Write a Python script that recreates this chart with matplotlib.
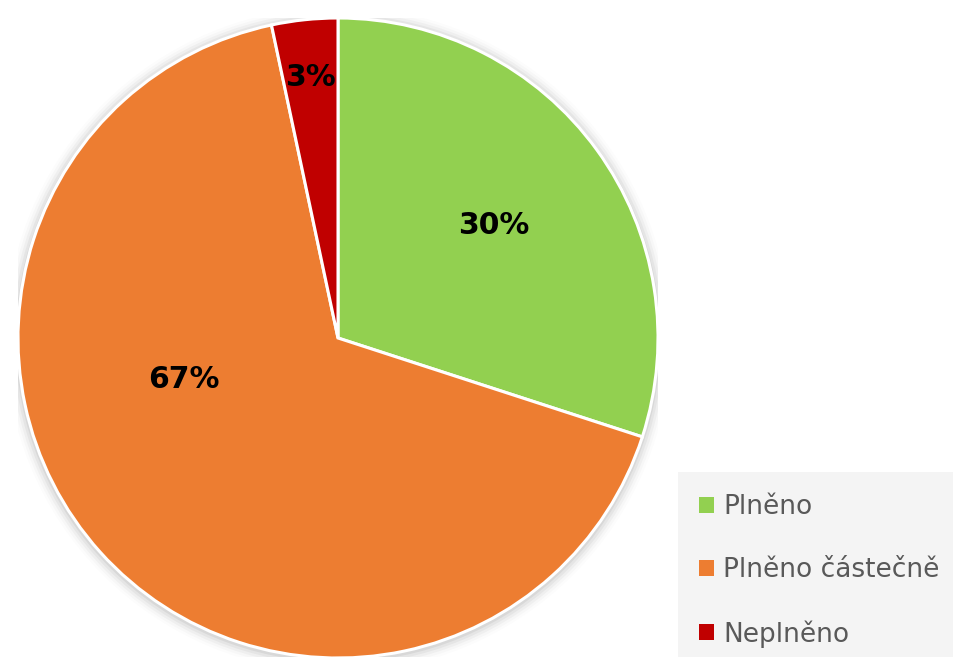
"""Pie chart: plnění úkolů."""

import matplotlib.pyplot as plt
import numpy as np
from matplotlib.patches import Circle

categories = ["Plněno", "Plněno částečně", "Neplněno"]
counts = [9, 20, 1]
colors = ["#92D050", "#ED7D31", "#C00000"]

# label placement (radius fraction, angle in degrees)
label_pos = [(0.60, 36), (0.50, 195), (0.82, 96)]

W, H = 954, 657
fig = plt.figure(figsize=(W / 100, H / 100), dpi=100)
ax = fig.add_axes([18 / W, -1 / H, 640 / W, 640 / H])
ax.axis("off")

# soft shadow around the pie
for i, a in enumerate([0.05, 0.04, 0.03, 0.02, 0.01]):
    ax.add_patch(Circle((0, -0.005), 1.0 + 0.008 * (i + 1), color="black", alpha=a, lw=0, zorder=0))

wedges, _ = ax.pie(
    counts,
    colors=colors,
    startangle=90,
    counterclock=False,
    radius=1.0,
    wedgeprops={"edgecolor": "white", "linewidth": 2.2},
)
ax.set_xlim(-1, 1)
ax.set_ylim(-1, 1)
ax.set_aspect("auto")

total = sum(counts)
for value, (r, ang) in zip(counts, label_pos):
    t = np.deg2rad(ang)
    ax.text(r * np.cos(t), r * np.sin(t), f"{value / total * 100:.0f}%",
            ha="center", va="center", fontsize=21.5, fontweight="bold",
            family="DejaVu Sans", color="black")

# legend panel
fig.patches.append(plt.Rectangle((678 / W, 0), 1, 185 / H, transform=fig.transFigure,
                                 facecolor="#f4f4f4", edgecolor="none", zorder=0))
leg = fig.legend(
    wedges, categories,
    loc="upper left", bbox_to_anchor=(686 / W, 1 - 481 / H),
    frameon=False, fontsize=19, labelcolor="#595959",
    handlelength=0.55, handleheight=0.55, handletextpad=0.35,
    labelspacing=1.4, borderpad=0,
)
for h in leg.legend_handles:
    h.set_edgecolor("none")

fig.savefig("out.png", dpi=100, facecolor="white")
